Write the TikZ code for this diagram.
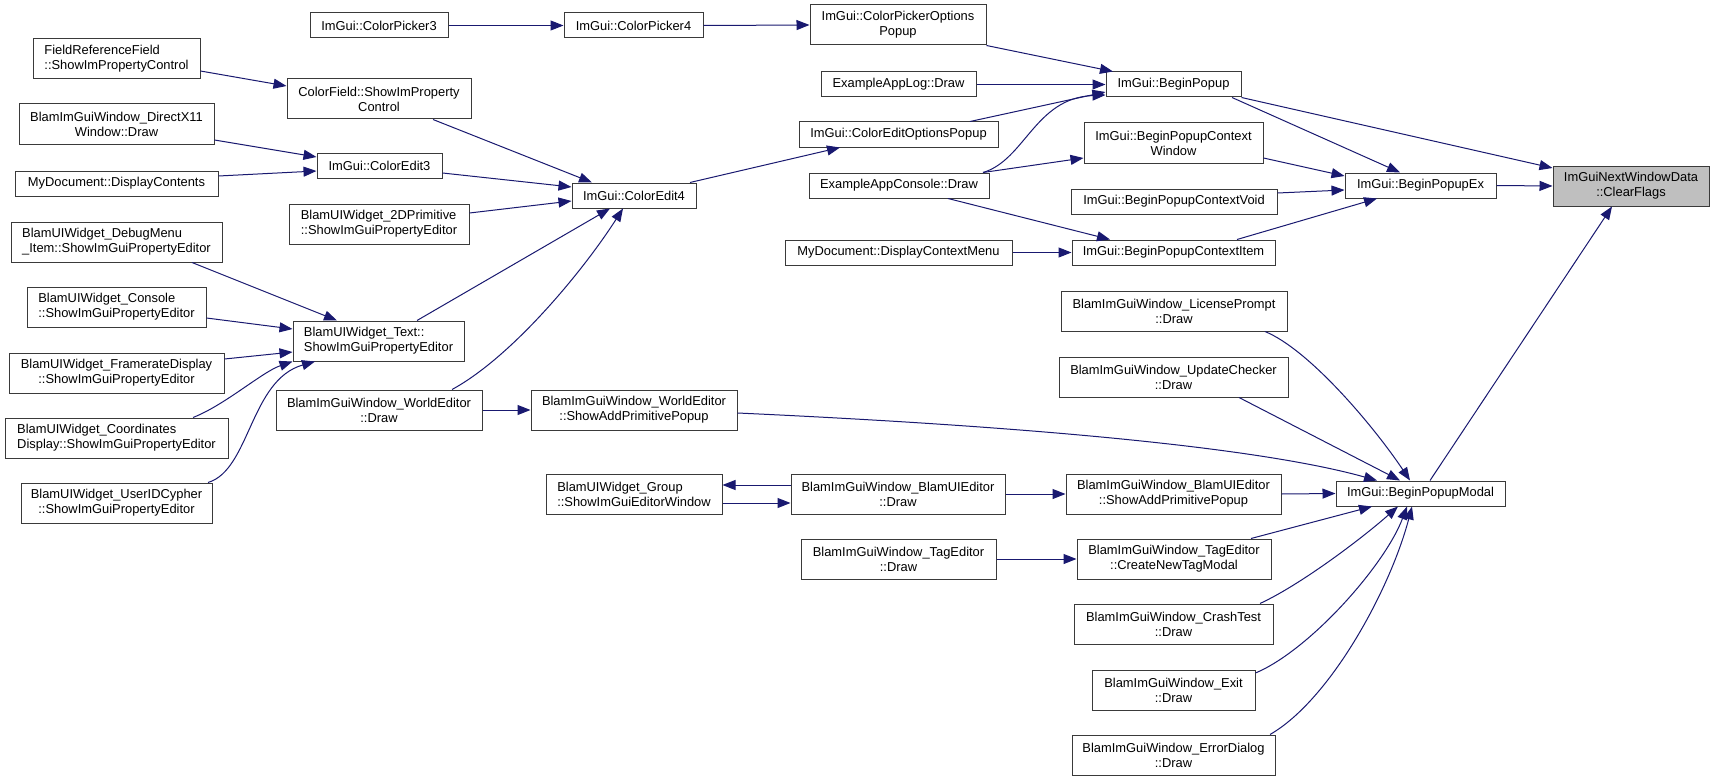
\documentclass[tikz,border=0pt]{standalone}
\usepackage{fontspec}
\setmainfont{Liberation Sans}
\usetikzlibrary{arrows.meta}
\definecolor{mblue}{HTML}{191970}
\definecolor{boxc}{HTML}{3A3A3A}
\definecolor{grayfill}{HTML}{BFBFBF}
\newcommand{\gfont}{\fontsize{12.9}{15}\selectfont}
\newcommand{\mkbox}[7][gn]{%
  \node[#1, minimum width={(#5-#3)*1pt}, minimum height={(#6-#4)*1pt}] (#2) at ({(#3+#5)/2},{(#4+#6)/2}) {#7};}
\tikzset{
  gn/.style={draw=boxc, line width=1pt, fill=white, inner sep=0pt, font=\gfont, align=center},
  gnl/.style={gn, align=left},
  gng/.style={gn, fill=grayfill},
  cl/.style={draw=mblue, line width=1pt, -{Triangle[length=13pt,width=10pt,fill=mblue]}},
}
\begin{document}
\begin{tikzpicture}[x=1pt,y=-1pt]
\fill[white] (0,0) rectangle (1715,781);
\useasboundingbox (0,0) rectangle (1715,781);
% nodes
\mkbox{cp3}{310}{13}{448}{38}{ImGui::ColorPicker3}
\mkbox{cp4}{564}{13}{703}{38}{ImGui::ColorPicker4}
\mkbox{cpop}{810}{5}{986}{45}{ImGui::ColorPickerOptions\\Popup}
\mkbox{elog}{821}{72}{976}{97}{ExampleAppLog::Draw}
\mkbox{ceop}{799}{122}{998}{147}{ImGui::ColorEditOptionsPopup}
\mkbox{econ}{809}{173}{989}{198}{ExampleAppConsole::Draw}
\mkbox{dcm}{785}{240}{1012}{265}{MyDocument::DisplayContextMenu}
\mkbox{bp}{1106}{72}{1241}{97}{ImGui::BeginPopup}
\mkbox{bpcw}{1084}{123}{1263}{163}{ImGui::BeginPopupContext\\Window}
\mkbox{bpcv}{1071}{189}{1277}{214}{ImGui::BeginPopupContextVoid}
\mkbox{bpci}{1072}{240}{1275}{265}{ImGui::BeginPopupContextItem}
\mkbox{bpex}{1345}{173}{1496}{198}{ImGui::BeginPopupEx}
\mkbox[gng]{cf}{1553}{166}{1709}{206}{ImGuiNextWindowData\\::ClearFlags}
\mkbox[gnl]{frf}{33}{39}{200}{79}{FieldReferenceField\\::ShowImPropertyControl}
\mkbox{cfld}{287}{79}{471}{119}{ColorField::ShowImProperty\\Control}
\mkbox{dx11}{19}{104}{214}{144}{BlamImGuiWindow\_DirectX11\\Window::Draw}
\mkbox{ce3}{317}{153}{442}{178}{ImGui::ColorEdit3}
\mkbox{mdc}{15}{171}{218}{196}{MyDocument::DisplayContents}
\mkbox[gnl]{p2d}{289}{204}{469}{244}{BlamUIWidget\_2DPrimitive\\::ShowImGuiPropertyEditor}
\mkbox{ce4}{572}{183}{696}{208}{ImGui::ColorEdit4}
\mkbox[gnl]{dbg}{11}{222}{222}{262}{BlamUIWidget\_DebugMenu\\\_Item::ShowImGuiPropertyEditor}
\mkbox[gnl]{con}{27}{287}{206}{327}{BlamUIWidget\_Console\\::ShowImGuiPropertyEditor}
\mkbox[gnl]{txt}{293}{321}{464}{361}{BlamUIWidget\_Text::\\ShowImGuiPropertyEditor}
\mkbox{fr}{9}{353}{224}{393}{BlamUIWidget\_FramerateDisplay\\::ShowImGuiPropertyEditor}
\mkbox[gnl]{co}{5}{418}{228}{458}{BlamUIWidget\_Coordinates\\Display::ShowImGuiPropertyEditor}
\mkbox{uid}{21}{483}{212}{523}{BlamUIWidget\_UserIDCypher\\::ShowImGuiPropertyEditor}
\mkbox{wed}{276}{390}{482}{430}{BlamImGuiWindow\_WorldEditor\\::Draw}
\mkbox{wsap}{531}{390}{737}{430}{BlamImGuiWindow\_WorldEditor\\::ShowAddPrimitivePopup}
\mkbox[gnl]{grp}{546}{474}{722}{514}{BlamUIWidget\_Group\\::ShowImGuiEditorWindow}
\mkbox{bued}{791}{474}{1005}{514}{BlamImGuiWindow\_BlamUIEditor\\::Draw}
\mkbox{busap}{1066}{474}{1281}{514}{BlamImGuiWindow\_BlamUIEditor\\::ShowAddPrimitivePopup}
\mkbox{bpm}{1336}{481}{1505}{506}{ImGui::BeginPopupModal}
\mkbox{lic}{1061}{291}{1287}{331}{BlamImGuiWindow\_LicensePrompt\\::Draw}
\mkbox{upd}{1059}{357}{1288}{397}{BlamImGuiWindow\_UpdateChecker\\::Draw}
\mkbox{ted}{801}{539}{996}{579}{BlamImGuiWindow\_TagEditor\\::Draw}
\mkbox{ctm}{1077}{539}{1271}{579}{BlamImGuiWindow\_TagEditor\\::CreateNewTagModal}
\mkbox{crash}{1074}{604}{1273}{644}{BlamImGuiWindow\_CrashTest\\::Draw}
\mkbox{exit}{1092}{670}{1255}{710}{BlamImGuiWindow\_Exit\\::Draw}
\mkbox{err}{1072}{735}{1275}{775}{BlamImGuiWindow\_ErrorDialog\\::Draw}
% edges
\draw[cl] (cp3.east) -- (cp4.west);
\draw[cl] (cp4.east) -- (cpop.west);
\draw[cl] (cpop.south east) -- (bp.north -| 1113,0);
\draw[cl] (elog.east) -- (bp.west);
\draw[cl] (ceop.north -| 970,0) -- (bp.west |- 0,92);
\draw[cl] (econ.north -| 983,0) .. controls (1025,160) and (1035,98) .. (bp.west |- 0,95);
\draw[cl] (econ.north -| 983,0) -- (bpcw.west |- 0,158);
\draw[cl] (econ.south -| 948,0) -- (bpci.north -| 1110,0);
\draw[cl] (dcm.east) -- (bpci.west);
\draw[cl] (bp.south -| 1232,0) -- (bpex.north -| 1400,0);
\draw[cl] (bp.south east) -- (cf.west |- 0,168);
\draw[cl] (bpcw.east |- 0,158) -- (bpex.west |- 0,176);
\draw[cl] (bpcv.east |- 0,193) -- (bpex.west |- 0,190);
\draw[cl] (bpci.north -| 1237,0) -- (bpex.south -| 1377,0);
\draw[cl] (bpex.east) -- (cf.west);
\draw[cl] (bpm.north -| 1430,0) -- (cf.south -| 1612,0);
\draw[cl] (cfld.south -| 433,0) -- (ce4.north -| 592,0);
\draw[cl] (ce3.east |- 0,173) -- (ce4.west |- 0,187);
\draw[cl] (p2d.east |- 0,213) -- (ce4.west |- 0,201);
\draw[cl] (txt.north -| 417,0) -- (ce4.south -| 610,0);
\draw[cl] (wed.north -| 452,0) .. controls (512,357) and (583,271) .. (ce4.south -| 623,0);
\draw[cl] (ce4.north -| 690,0) -- (ceop.south -| 840,0);
\draw[cl] (frf.east |- 0,71) -- (cfld.west |- 0,86);
\draw[cl] (dx11.east |- 0,140) -- (ce3.west |- 0,157);
\draw[cl] (mdc.east |- 0,176) -- (ce3.west |- 0,171);
\draw[cl] (dbg.south -| 192,0) -- (txt.north -| 337,0);
\draw[cl] (con.east |- 0,318) -- (txt.west |- 0,329);
\draw[cl] (fr.east |- 0,359) -- (txt.west |- 0,352);
\draw[cl] (co.north -| 193,0) .. controls (225,405) and (262,372) .. (txt.south west);
\draw[cl] (uid.north -| 208,0) .. controls (250,470) and (250,380) .. (txt.south -| 315,0);
\draw[cl] (wed.east) -- (wsap.west);
\draw[cl] (wsap.east |- 0,413) .. controls (1000,425) and (1250,445) .. (bpm.north -| 1377,0);
\draw[cl] (bued.west |- 0,485) -- (grp.east |- 0,485);
\draw[cl] (grp.east |- 0,503) -- (bued.west |- 0,503);
\draw[cl] (bued.east) -- (busap.west);
\draw[cl] (busap.east) -- (bpm.west);
\draw[cl] (ted.east) -- (ctm.west);
\draw[cl] (ctm.north -| 1251,0) -- (bpm.south -| 1372,0);
\draw[cl] (lic.south -| 1265,0) .. controls (1310,350) and (1375,428) .. (bpm.north -| 1410,0);
\draw[cl] (upd.south -| 1239,0) -- (bpm.north -| 1400,0);
\draw[cl] (crash.north -| 1260,0) .. controls (1300,585) and (1360,540) .. (bpm.south -| 1398,0);
\draw[cl] (exit.east |- 0,673) .. controls (1310,650) and (1385,565) .. (bpm.south -| 1407,0);
\draw[cl] (err.north -| 1270,0) .. controls (1330,700) and (1390,590) .. (bpm.south -| 1412,0);
\end{tikzpicture}
\end{document}
